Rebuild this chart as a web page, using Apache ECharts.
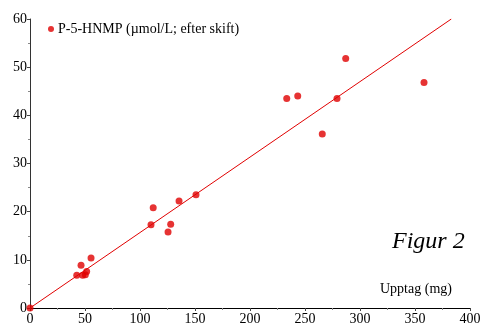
<!DOCTYPE html>
<html>
<head>
<meta charset="utf-8">
<script src="https://cdn.jsdelivr.net/npm/echarts@6/dist/echarts.min.js"></script>
<style>
  html, body { margin: 0; padding: 0; background: #fff; }
  #chart { width: 484px; height: 326px; }
</style>
</head>
<body>
<div id="chart"></div>
<script>
// uptake (mg) vs P-5-HNMP after shift
const uptake = [0, 42.5, 46.4, 47.9, 50.3, 51.5, 55.5, 110, 112, 125.5, 127.9, 135.5, 150.9, 233.4, 243.4, 265.7, 279.1, 287, 358.2];
const hnmp = [0, 6.8, 8.9, 6.8, 6.9, 7.6, 10.4, 17.3, 20.8, 15.8, 17.4, 22.2, 23.5, 43.5, 44.0, 36.1, 43.5, 51.8, 46.8];
const fitX = [0, 383];
const fitY = [0, 60];
const xTicks = [0, 50, 100, 150, 200, 250, 300, 350, 400];
const yTicks = [0, 10, 20, 30, 40, 50, 60];

const serif = "Liberation Serif";
const red = "#e00000";

const chart = echarts.init(document.getElementById("chart"));

chart.setOption({
  backgroundColor: "#fff",
  animation: false,
  grid: { left: 30, right: 14, top: 19, bottom: 18 },
  legend: {
    left: 43,
    top: 17,
    icon: "circle",
    itemWidth: 6,
    itemHeight: 6,
    itemGap: 4,
    textStyle: { fontFamily: serif, fontSize: 14, color: "#000", padding: [0, 0, 0, -1] },
    data: ["P-5-HNMP (µmol/L; efter skift)"]
  },
  xAxis: {
    type: "value",
    min: xTicks[0],
    max: xTicks[xTicks.length - 1],
    interval: 50,
    axisLine: { lineStyle: { color: "#000", width: 1 } },
    axisTick: { show: true, length: 3, lineStyle: { color: "#444" } },
    minorTick: { show: true, splitNumber: 2, length: 2, lineStyle: { color: "#888" } },
    splitLine: { show: false },
    axisLabel: { fontFamily: serif, fontSize: 14, color: "#000", margin: 4 }
  },
  yAxis: {
    type: "value",
    min: yTicks[0],
    max: yTicks[yTicks.length - 1],
    interval: 10,
    axisLine: { show: true, lineStyle: { color: "#333", width: 1 } },
    axisTick: { show: true, length: 3, lineStyle: { color: "#444" } },
    minorTick: { show: true, splitNumber: 2, length: 2, lineStyle: { color: "#888" } },
    splitLine: { show: false },
    axisLabel: { fontFamily: serif, fontSize: 14, color: "#000", margin: 3 }
  },
  graphic: [
    {
      type: "text",
      left: 392,
      top: 230,
      style: { text: "Figur 2", font: "italic 24px Liberation Serif", fill: "#000" }
    },
    {
      type: "text",
      left: 380,
      top: 282,
      style: { text: "Upptag (mg)", font: "14px Liberation Serif", fill: "#000" }
    }
  ],
  series: [
    {
      name: "fit",
      type: "line",
      data: fitX.map((x, i) => [x, fitY[i]]),
      symbol: "none",
      lineStyle: { color: red, width: 1 },
      silent: true,
      z: 1
    },
    {
      name: "P-5-HNMP (µmol/L; efter skift)",
      type: "scatter",
      data: uptake.map((x, i) => [x, hnmp[i]]),
      symbolSize: 7,
      itemStyle: { color: red },
      z: 2
    }
  ]
});
</script>
</body>
</html>
